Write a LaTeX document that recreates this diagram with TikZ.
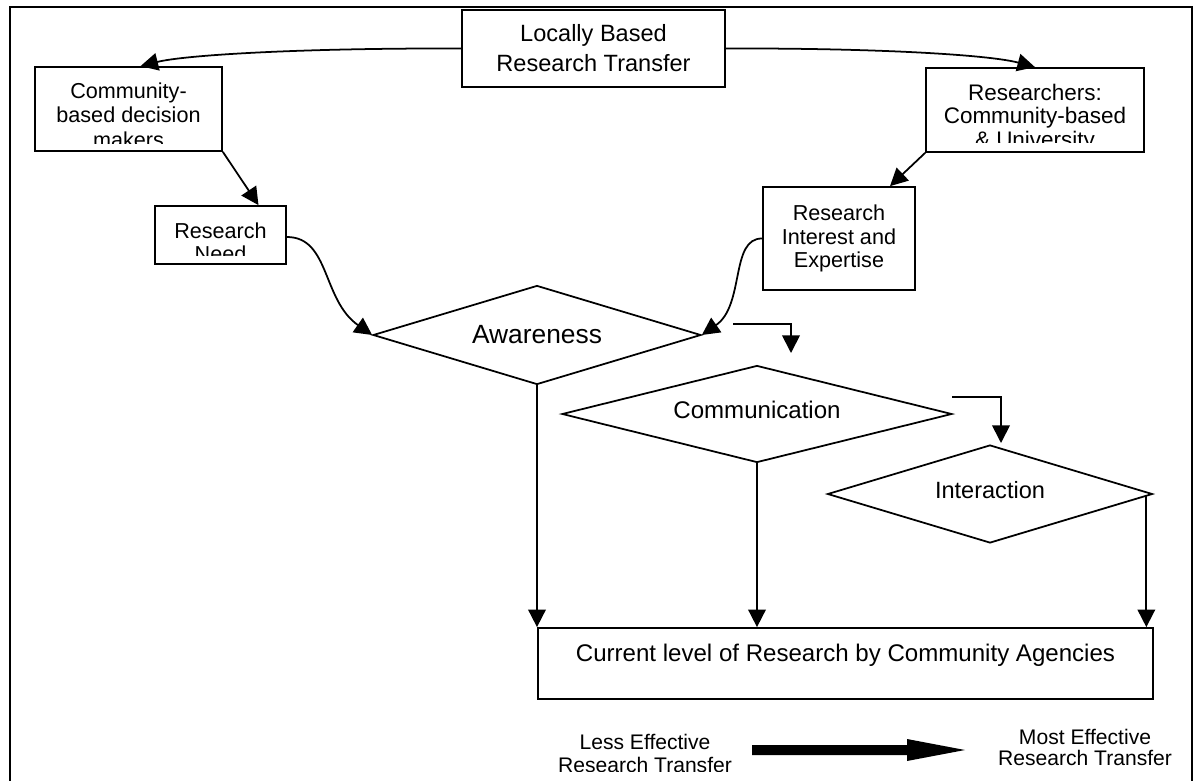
\documentclass[tikz,border=0pt]{standalone}
\usepackage{fontspec}
\setmainfont{Liberation Sans}
\usetikzlibrary{arrows.meta,shapes.geometric,calc}
\begin{document}
\begin{tikzpicture}[x=0.02cm,y=-0.02cm,
  box/.style={draw,line width=1pt,rectangle,inner sep=0pt},
  dia/.style={draw,line width=1pt,diamond,shape aspect=3.3,inner sep=0pt},
  arr/.style={line width=1pt,-{Triangle[length=10pt,width=10pt]}},
  txt/.style={inner sep=0pt,align=center}]
\useasboundingbox (0,0) rectangle (1194,781);
% outer frame
\draw[line width=1.2pt] (10,781) -- (10,7) -- (1192,7) -- (1192,781);

% top box
\node[box,fill=white,minimum width=5.26cm,minimum height=1.54cm,align=center,
      font=\fontsize{13.4}{17}\selectfont] (top) at (593.5,48.5) {Locally Based\\Research Transfer};

% community-based decision makers
\node[box,minimum width=3.74cm,minimum height=1.68cm] (cdm) at (128.5,109) {};
\begin{scope}
\clip (39,70) rectangle (218,143);
\node[txt,anchor=north,font=\fontsize{12.3}{14.2}\selectfont] (cdmt) at (128.5,82) {Community-\\based decision\\makers};
\end{scope}

% researchers
\node[box,minimum width=4.36cm,minimum height=1.68cm] (res) at (1035,110) {};
\begin{scope}
\clip (929,71) rectangle (1141,142);
\node[txt,anchor=north,font=\fontsize{12.8}{13.2}\selectfont] (rest) at (1035,84) {Researchers:\\Community-based\\\& University};
\end{scope}

% research need
\node[box,minimum width=2.62cm,minimum height=1.16cm] (rn) at (220.5,235) {};
\begin{scope}
\clip (158,209) rectangle (283,255);
\node[txt,anchor=north,font=\fontsize{12.3}{13.6}\selectfont] (rnt) at (220.5,222) {Research\\Need};
\end{scope}

% research interest and expertise
\node[box,minimum width=3.04cm,minimum height=2.06cm,align=center,
      font=\fontsize{12.3}{13.6}\selectfont] (ri) at (839,238.5) {Research\\Interest and\\Expertise};

% diamonds
\node[dia,minimum width=6.56cm,minimum height=1.98cm,font=\fontsize{15}{18}\selectfont] (aw) at (537,335) {Awareness};
\node[dia,minimum width=7.8cm,minimum height=1.94cm,text depth=5pt,font=\fontsize{13.7}{16}\selectfont] (com) at (757,414) {Communication};
\node[dia,minimum width=6.5cm,minimum height=1.96cm,text depth=5pt,font=\fontsize{13.4}{16}\selectfont] (int) at (990,494) {Interaction};

% current level box
\node[box,minimum width=12.3cm,minimum height=1.42cm,text depth=12.5pt,
      font=\fontsize{13.7}{16}\selectfont] (cur) at (845.5,663.5) {Current level of Research by Community Agencies};

% connectors
\draw[arr] (top.west) .. controls (300,48) and (185,55) .. ($(cdm.north)+(12,0)$);
\draw[arr] (top.east) .. controls (880,48) and (990,55) .. (res.north);
\draw[arr] (cdm.south east) -- ($(rn.north)+(38,0)$);
\draw[arr] (res.south west) -- ($(ri.north)+(51,0)$);
\draw[arr] ($(rn.east)+(0,2)$) .. controls (330,237) and (322,300) .. (aw.west);
\draw[arr] (ri.west) .. controls (730,238) and (745,305) .. (aw.east);

\coordinate (e1s) at (733,324);
\coordinate (e1e) at (791,353);
\draw[arr] (e1s) -| (e1e);
\coordinate (e2s) at (952,397);
\coordinate (e2e) at (1001,443);
\draw[arr] (e2s) -| (e2e);

\draw[arr] (aw.south) -- (aw.south |- cur.north);
\draw[arr] (com.south) -- (com.south |- cur.north);
\coordinate (ir) at ($(int.east)+(-7,2)$);
\draw[arr] (ir) -- (ir |- cur.north);

% bottom legend
\begin{scope}
\clip (500,720) rectangle (760,771);
\node[txt,anchor=north,font=\fontsize{12}{13}\selectfont] (less) at (645,734) {Less Effective\\Research Transfer};
\end{scope}
\node[txt,anchor=north,font=\fontsize{12}{11.6}\selectfont] (most) at (1085,729) {Most Effective\\Research Transfer};
\fill (752,745) -- (907,745) -- (907,739) -- (965,750) -- (907,761) -- (907,755) -- (752,755) -- cycle;
\end{tikzpicture}
\end{document}
